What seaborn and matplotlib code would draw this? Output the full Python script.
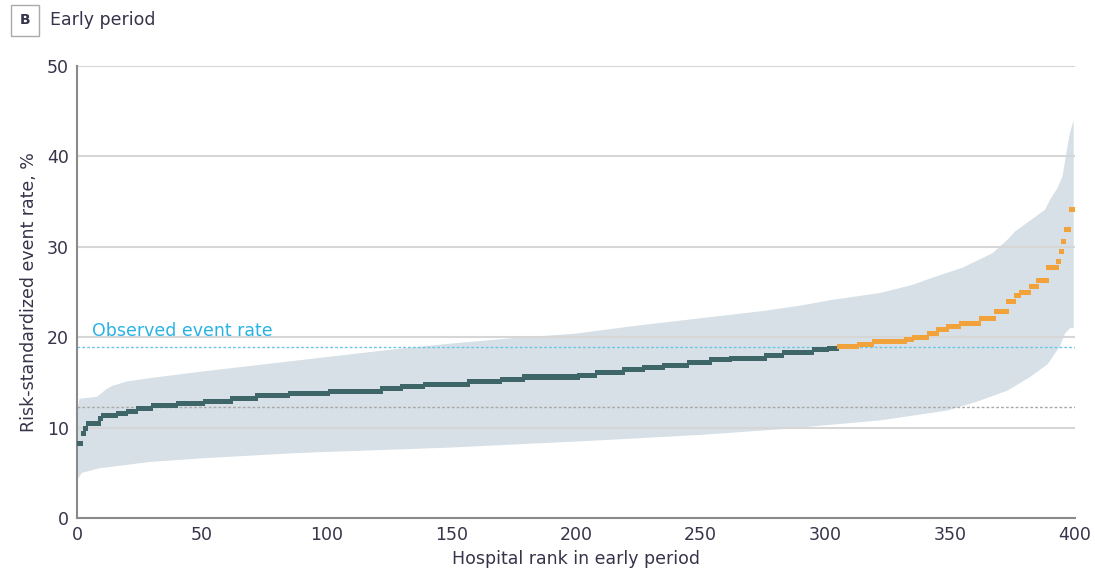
import matplotlib

matplotlib.use("agg")

import numpy as np
import pandas as pd
import matplotlib.pyplot as plt
import seaborn as sns

# Risk-standardized event rate per hospital, read off the chart as
# step levels (%) and how many hospitals sit on each level, in rank order
rate_levels = [
    8.2, 9.4, 9.9, 10.5, 11.0, 11.3, 11.6, 11.8, 12.1, 12.4,
    12.7, 12.9, 13.2, 13.5, 13.8, 14.0, 14.3, 14.5, 14.8, 15.1,
    15.3, 15.6, 15.8, 16.1, 16.4, 16.6, 16.9, 17.2, 17.5, 17.7,
    18.0, 18.3, 18.6, 18.8,
    19.0, 19.2, 19.5, 19.8, 20.0, 20.4, 20.9, 21.2, 21.5, 22.1,
    22.9, 23.9, 24.6, 24.9, 25.6, 26.3, 27.7, 28.4, 29.5, 30.6,
    31.9, 34.1,
]
level_counts = [
    2, 1, 1, 5, 1, 6, 4, 4, 6, 10,
    11, 11, 10, 13, 16, 21, 8, 9, 18, 13,
    9, 22, 7, 11, 8, 8, 10, 9, 8, 14,
    7, 12, 6, 4,
    8, 6, 13, 3, 6, 4, 4, 5, 8, 6,
    5, 3, 2, 4, 3, 4, 4, 1, 1, 1,
    2, 2,
]

# 95% interval band (upper and lower edges) at the ranks where it was read
upper_rank = [0, 1, 8, 12, 14, 20, 30, 50, 75, 100, 125, 150, 175, 200, 225,
              250, 275, 290, 302, 322, 335, 342, 355, 367, 373, 376, 378,
              388, 390, 393, 395, 397, 398, 399.5]
upper_rate = [11.5, 13.2, 13.4, 14.3, 14.6, 15.1, 15.5, 16.2, 17.0, 17.8, 18.6,
              19.3, 19.9, 20.4, 21.3, 22.1, 22.9, 23.5, 24.1, 24.9, 25.8,
              26.5, 27.7, 29.3, 30.8, 31.7, 32.1, 34.1, 35.2, 36.5, 37.8,
              41.1, 42.6, 44.0]
lower_rank = [0, 2, 9, 29, 50, 89, 150, 210, 250, 281, 322, 349, 361, 373,
              382, 389, 394, 396, 398, 399.5]
lower_rate = [4.2, 5.0, 5.5, 6.2, 6.6, 7.2, 7.8, 8.6, 9.2, 9.8, 10.8, 11.9,
              12.9, 14.1, 15.6, 17.0, 19.0, 20.4, 21.0, 21.0]

observed_rate = 18.9
reference_rate = 12.3

rates = np.repeat(rate_levels, level_counts)
df = pd.DataFrame({"rank": np.arange(len(rates)) + 0.5, "rate": rates})
df["above"] = df["rate"] > observed_rate

sns.set_style("white")
plt.rcParams["font.family"] = ["DejaVu Sans"]
text_color = "#35344a"

fig = plt.figure(figsize=(10.95, 5.85), dpi=100)
ax = fig.add_axes([0.0703, 0.1145, 0.9114, 0.7726])

# interval band
ax.fill(
    np.r_[upper_rank, lower_rank[::-1]],
    np.r_[upper_rate, lower_rate[::-1]],
    color="#d6e0e6",
    lw=0,
    zorder=0.2,
)

ax.axhline(observed_rate, color="#6cc6e6", lw=1, ls=(0, (2, 1.5)), zorder=2)
ax.axhline(reference_rate, color="#a9a9a9", lw=1, ls=(0, (2, 1.5)), zorder=2)

sns.scatterplot(
    data=df,
    x="rank",
    y="rate",
    hue="above",
    palette={False: "#3e6669", True: "#f2a23a"},
    marker="s",
    s=13,
    linewidth=0,
    legend=False,
    ax=ax,
    zorder=3,
)

ax.text(6, 20.7, "Observed event rate", color="#29b2e6", fontsize=12.5,
        va="center", ha="left")

ax.set_xlim(0, 400)
ax.set_ylim(0, 50)
ax.set_xticks(range(0, 401, 50))
ax.set_yticks(range(0, 51, 10))
ax.set_axisbelow("line")
ax.grid(axis="y", color="#d6d6d6", lw=1.5)
ax.grid(axis="x", visible=False)
for side in ["top", "right"]:
    ax.spines[side].set_visible(False)
for side in ["left", "bottom"]:
    ax.spines[side].set_color("#8a8a8a")
    ax.spines[side].set_linewidth(1.5)
ax.tick_params(axis="both", direction="out", length=4, width=1.5,
               color="#333333", labelsize=12.5, labelcolor=text_color, pad=2)
ax.set_xlabel("Hospital rank in early period", fontsize=12.5, color=text_color,
              labelpad=4)
ax.set_ylabel("Risk-standardized event rate, %", fontsize=12.5,
              color=text_color, labelpad=6)

fig.text(0.0228, 0.965, "B", fontsize=10, fontweight="bold", color=text_color,
         ha="center", va="center",
         bbox=dict(boxstyle="square,pad=0.6", fc="white", ec="#aaaaaa", lw=1))
fig.text(0.046, 0.965, "Early period", fontsize=12.5, color=text_color,
         ha="left", va="center")

fig.savefig("out.png", dpi=100)
